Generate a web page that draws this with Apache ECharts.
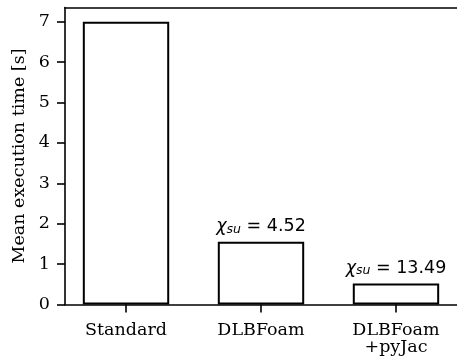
<!DOCTYPE html>
<html>
<head>
<meta charset="utf-8">
<script src="https://cdn.jsdelivr.net/npm/echarts@6/dist/echarts.min.js"></script>
<style>html,body{margin:0;padding:0;background:#fff;}#c{width:457px;height:359px;}</style>
</head>
<body>
<div id="c"></div>
<script>
const categories = ['Standard', 'DLBFoam', 'DLBFoam\n+pyJac'];
const meanTimes = [7.0, 1.55, 0.52];
const speedups = ['', '4.52', '13.49'];
const yTicks = [0, 1, 2, 3, 4, 5, 6, 7];
const xPositions = [0, 1, 2];

const serif = 'DejaVu Serif';
const sans = 'DejaVu Sans';
const fs = 17.5;
const chart = echarts.init(document.getElementById('c'), null, {renderer: 'canvas'});
chart.setOption({
  animation: false,
  backgroundColor: '#fff',
  grid: {left: 65, right: -2.5, top: 7.5, bottom: 54.5, containLabel: false},
  xAxis: [{
    type: 'value', min: -0.452, max: 2.452,
    axisLine: {show: true, onZero: false, lineStyle: {color: '#000', width: 1.6}},
    axisTick: {show: true, length: 8, customValues: xPositions, lineStyle: {color: '#000', width: 1.6}},
    axisLabel: {show: true, customValues: xPositions, margin: 17,
      formatter: v => categories[Math.round(v)] || '',
      fontFamily: serif, fontSize: fs, color: '#000', lineHeight: 17.5},
    splitLine: {show: false}
  }, {
    type: 'value', position: 'top', min: -0.452, max: 2.452,
    axisLine: {show: true, onZero: false, lineStyle: {color: '#000', width: 1.6}},
    axisTick: {show: false}, axisLabel: {show: false}, splitLine: {show: false}
  }],
  yAxis: {
    type: 'value', min: 0, max: 7.35,
    name: 'Mean execution time [s]', nameLocation: 'middle', nameGap: 30,
    nameTextStyle: {fontFamily: serif, fontSize: fs, color: '#000'},
    axisLine: {show: true, onZero: false, lineStyle: {color: '#000', width: 1.6}},
    axisTick: {show: true, length: 8, customValues: yTicks, lineStyle: {color: '#000', width: 1.6}},
    axisLabel: {show: true, customValues: yTicks, margin: 15, fontFamily: serif, fontSize: fs, color: '#000'},
    splitLine: {show: false}
  },
  series: [{
    type: 'bar',
    xAxisIndex: 0,
    barWidth: '64%',
    data: meanTimes.map((v, i) => [xPositions[i], v]),
    itemStyle: {color: '#fff', borderColor: '#000', borderWidth: 2},
    label: {
      show: true, position: 'top', distance: 5,
      formatter: p => speedups[p.dataIndex] ? '{chi|χ}{sub|su}{eq| = ' + speedups[p.dataIndex] + '}' : '',
      rich: {
        chi: {fontFamily: sans, fontStyle: 'italic', fontSize: fs, color: '#000', lineHeight: 20},
        sub: {fontFamily: sans, fontStyle: 'italic', fontSize: 12.5, color: '#000', lineHeight: 20, padding: [5, 0, 0, 0]},
        eq: {fontFamily: sans, fontSize: fs, color: '#000', lineHeight: 20}
      }
    }
  }]
});
</script>
</body>
</html>
